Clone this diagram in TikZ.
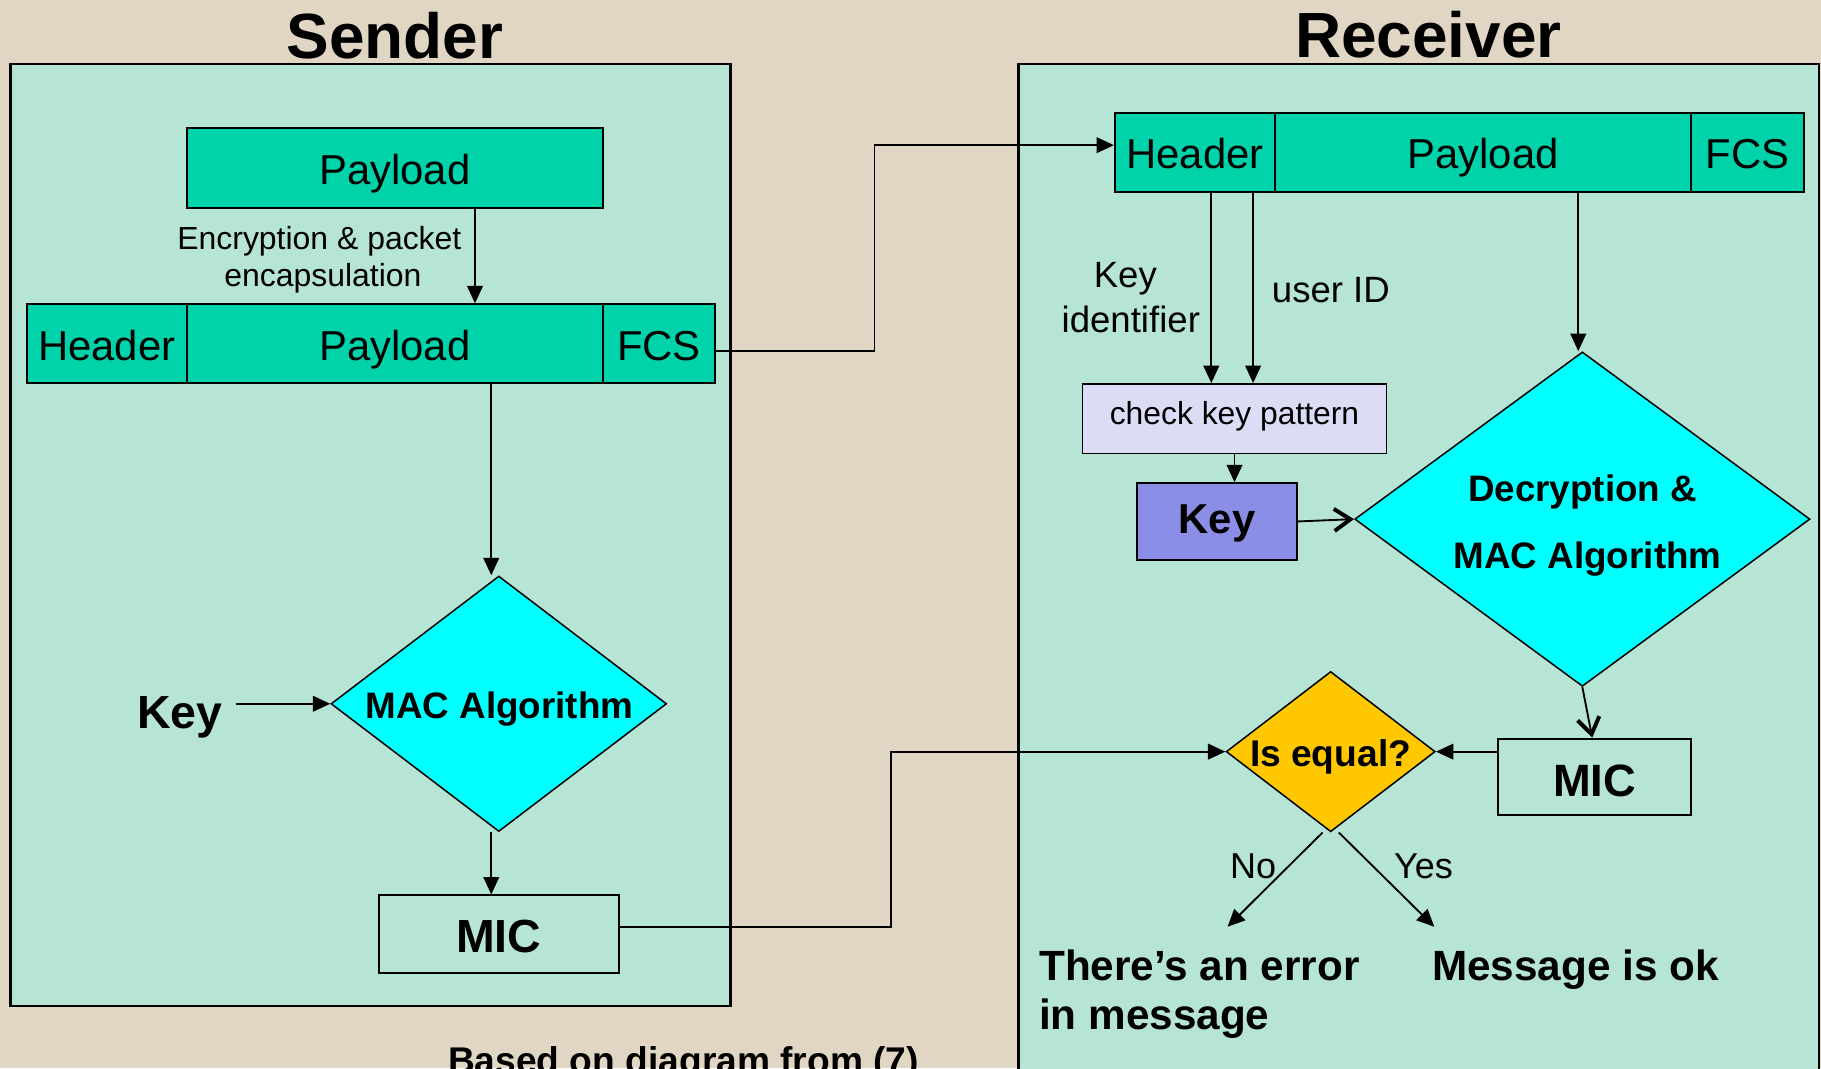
\documentclass[tikz,border=0pt]{standalone}
\usepackage{fontspec}
\setmainfont{Liberation Sans}
\usetikzlibrary{arrows.meta,shapes.geometric}

\definecolor{bgbeige}{RGB}{225,214,196}
\definecolor{panelmint}{RGB}{182,229,213}
\definecolor{pktgreen}{RGB}{0,210,170}
\definecolor{algcyan}{RGB}{0,255,255}
\definecolor{keyblue}{RGB}{139,142,230}
\definecolor{checklav}{RGB}{220,220,246}
\definecolor{cmpgold}{RGB}{255,200,0}

\newcommand\fsz[2]{\fontsize{#1}{#2}\selectfont}

\tikzset{
  panelbox/.style={draw, fill=panelmint, line width=2pt, inner sep=0pt},
  titletext/.style={font=\bfseries\fsz{55}{60}, inner sep=0pt},
  seg/.style={draw, fill=pktgreen, line width=1.6pt, minimum height=68pt,
    inner sep=0pt, font=\fsz{36}{40}, text height=29pt, text depth=0pt},
  whitebox/.style={draw, line width=1.6pt, inner sep=0pt, minimum height=67pt,
    font=\bfseries\fsz{40}{44}, text height=32pt, text depth=0pt},
  diam/.style={diamond, draw, line width=1.3pt, inner sep=0pt},
  plainlbl/.style={inner sep=0pt, anchor=base},
  conn/.style={line width=1.6pt},
  arr/.style={conn, -{Triangle[length=15pt,width=13.5pt]}},
  varr/.style={line width=1.6pt, -{Straight Barb[length=14pt,width=19pt,line width=3.4pt]}},
}

\begin{document}
\begin{tikzpicture}[x=1pt, y=-1pt]
  % page and background
  \clip (0,0) rectangle (1568,920);
  \fill[bgbeige] (0,0) rectangle (1568,920);

  % the two panels
  \node[panelbox, minimum width=620pt, minimum height=811pt] (sndP) at (319,460.5) {};
  \node[panelbox, minimum width=689pt, minimum height=940pt] (rcvP) at (1221.5,525) {};

  \node[titletext, anchor=base] (sndT) at (340,50) {Sender};
  \node[titletext, anchor=base] (rcvT) at (1230,49.5) {Receiver};

  % ---------------- sender side ----------------
  \node[seg, minimum width=358pt, minimum height=69pt] (payT) at (340,144.5) {Payload};

  \node[plainlbl, font=\fsz{27.5}{31}] (enc1) at (275,215) {Encryption \& packet};
  \node[plainlbl, font=\fsz{27.5}{31}] (enc2) at (278,246.5) {encapsulation};

  \node[seg, minimum width=138pt] (hdrL) at (92,296) {Header};
  \node[seg, minimum width=358pt] (payL) at (340,296) {Payload};
  \node[seg, minimum width=97pt]  (fcsL) at (567.5,296) {FCS};

  \node[diam, fill=algcyan, minimum width=289pt, minimum height=220pt] (macS) at (429.5,606) {};
  \node[plainlbl, font=\bfseries\fsz{31.7}{36}] (macSt) at (430,618.5) {MAC Algorithm};

  \node[plainlbl, font=\bfseries\fsz{40}{44}, inner xsep=11pt] (keyS) at (155,627) {Key};

  \node[whitebox, minimum width=207pt] (micS) at (429.5,804.5) {MIC};

  \node[plainlbl, font=\bfseries\fsz{32}{36}, anchor=base west] (src) at (385.6,924) {Based on diagram from (7)};

  % ---------------- receiver side ----------------
  \node[seg, minimum width=138pt] (hdrR) at (1029,131) {Header};
  \node[seg, minimum width=358pt] (payR) at (1277,131) {Payload};
  \node[seg, minimum width=97pt]  (fcsR) at (1504.5,131) {FCS};

  \node[plainlbl, font=\fsz{31.5}{36}] (kid1) at (969,247.5) {Key};
  \node[plainlbl, font=\fsz{31.5}{36}] (kid2) at (973.7,286.3) {identifier};
  \node[plainlbl, font=\fsz{31.5}{36}, anchor=base west] (uid) at (1095,260.5) {user ID};

  \node[draw, fill=checklav, line width=1.3pt, inner sep=0pt,
        minimum width=262pt, minimum height=60pt,
        font=\fsz{27.4}{31}, text height=10pt, text depth=0pt] (ckb) at (1063,360.5) {check key pattern};

  \node[draw, fill=keyblue, line width=1.6pt, inner sep=0pt,
        minimum width=138pt, minimum height=66pt,
        font=\bfseries\fsz{36}{40}, text height=20pt, text depth=0pt] (keyR) at (1048,449) {Key};

  \node[diam, fill=algcyan, minimum width=392pt, minimum height=288pt] (decS) at (1362.5,447) {};
  \node[plainlbl, font=\bfseries\fsz{31.7}{36}] (dec1) at (1362.8,431.8) {Decryption \&};
  \node[plainlbl, font=\bfseries\fsz{31.7}{36}] (dec2) at (1367,489.7) {MAC Algorithm};

  \node[whitebox, minimum width=166pt, minimum height=66pt, font=\bfseries\fsz{39}{44},
        text height=34pt] (micR) at (1373,669) {MIC};

  \node[diam, fill=cmpgold, minimum width=180pt, minimum height=138pt] (isEq) at (1145.8,647.2) {};
  \node[plainlbl, font=\bfseries\fsz{32}{36}] (isEqt) at (1145.7,660) {Is equal?};

  \node[plainlbl, font=\fsz{31}{36}] (noL) at (1079,756.3) {No};
  \node[plainlbl, font=\fsz{31}{36}] (yesL) at (1225.7,756.3) {Yes};

  \node[plainlbl, font=\bfseries\fsz{36.4}{42}, anchor=base west] (err1) at (894.6,844.5) {There’s an error};
  \node[plainlbl, font=\bfseries\fsz{36.4}{42}, anchor=base west] (err2) at (894.6,886.5) {in message};
  \node[plainlbl, font=\bfseries\fsz{36.4}{42}, anchor=base west] (okT) at (1233,844.5) {Message is ok};

  % free ends of the two outcome arrows
  \coordinate (noEnd) at (1057,798);
  \coordinate (yesEnd) at (1235,798);
  % bend points of the long links
  \coordinate (bendA) at (753,200);
  \coordinate (bendB) at (767,720);

  % ---------------- connectors ----------------
  \draw[arr] ([xshift=69pt]payT.south) -- ([xshift=69pt]payL.north);
  \draw[arr] ([xshift=83pt]payL.south) -- ([xshift=-6.5pt]macS.north);
  \draw[arr] (keyS.east |- macS.west) -- (macS.west);
  \draw[arr] ([xshift=-6.5pt]macS.south) -- ([xshift=-6.5pt]micS.north);

  \draw[arr] ([yshift=-6pt]fcsL.east) -| (bendA) |- ([yshift=6pt]hdrR.west);
  \draw[arr] ([yshift=6.5pt]micS.east) -| (bendB) |- (isEq.west);

  \draw[arr] ([xshift=14pt]hdrR.south) -- ([xshift=14pt]hdrR.south |- ckb.north);
  \draw[arr] ([xshift=50pt]hdrR.south) -- ([xshift=50pt]hdrR.south |- ckb.north);
  \draw[arr] ([xshift=82pt]payR.south) -- ([xshift=82pt]payR.south |- decS.north);
  \draw[arr] (ckb.south) -- (ckb.south |- keyR.north);
  \draw[varr] (keyR.east) -- (decS.west);
  \draw[varr] (decS.south) -- ([xshift=-2pt]micR.north);
  \draw[arr] (isEq.east -| micR.west) -- (isEq.east);

  \draw[arr] ([xshift=-7pt]isEq.south) -- (noEnd);
  \draw[arr] ([xshift=7pt]isEq.south) -- (yesEnd);
\end{tikzpicture}
\end{document}
